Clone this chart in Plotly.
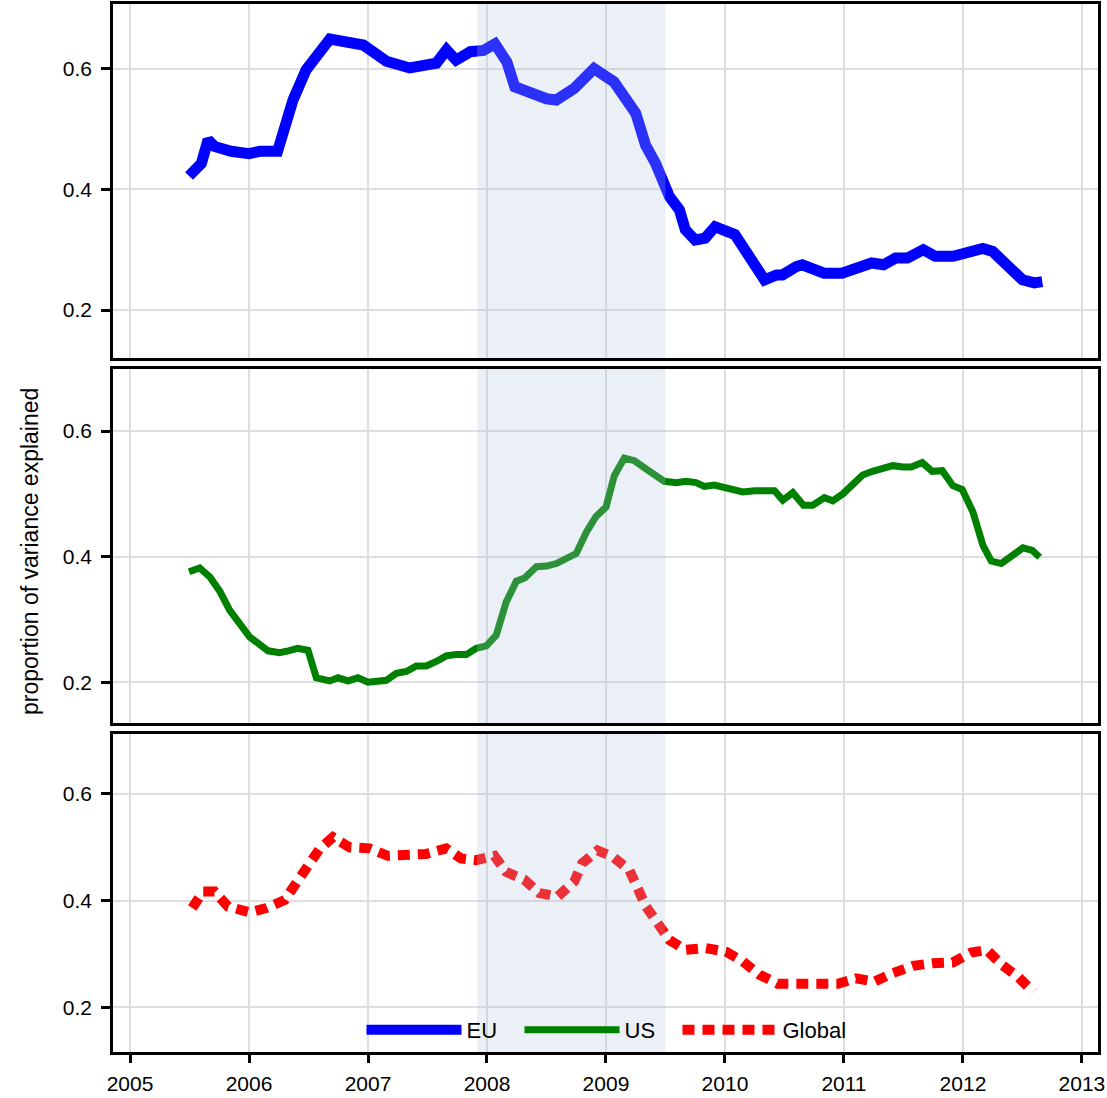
import plotly.graph_objects as go

# ---------------- data (decimal years) ----------------
eu_x = [2005.496, 2005.60, 2005.656, 2005.71, 2005.85, 2006.0, 2006.09, 2006.24, 2006.37, 2006.48,
        2006.68, 2006.875, 2006.96, 2007.155, 2007.35, 2007.575, 2007.66, 2007.74, 2007.86, 2007.97,
        2008.067, 2008.167, 2008.233, 2008.5, 2008.583, 2008.733, 2008.9, 2009.067, 2009.167, 2009.25,
        2009.333, 2009.417, 2009.533, 2009.617, 2009.667, 2009.75, 2009.833, 2009.917, 2010.083, 2010.217,
        2010.333, 2010.433, 2010.483, 2010.6, 2010.65, 2010.833, 2010.983, 2011.233, 2011.333, 2011.433,
        2011.533, 2011.667, 2011.767, 2011.917, 2012.167, 2012.25, 2012.4, 2012.5, 2012.6, 2012.667]
eu_y = [0.422, 0.443, 0.482, 0.471, 0.463, 0.459, 0.463, 0.463, 0.548, 0.598,
        0.649, 0.645, 0.639, 0.612, 0.601, 0.609, 0.631, 0.614, 0.628, 0.630,
        0.641, 0.611, 0.570, 0.550, 0.548, 0.567, 0.600, 0.578, 0.548, 0.526,
        0.473, 0.443, 0.388, 0.366, 0.333, 0.316, 0.319, 0.338, 0.325, 0.283,
        0.250, 0.258, 0.258, 0.272, 0.275, 0.261, 0.261, 0.278, 0.275, 0.286,
        0.286, 0.300, 0.289, 0.289, 0.302, 0.297, 0.272, 0.250, 0.245, 0.247]

us_x = [2005.496, 2005.585, 2005.67, 2005.754, 2005.837, 2005.92, 2006.006, 2006.16, 2006.258, 2006.33,
        2006.41, 2006.496, 2006.566, 2006.678, 2006.748, 2006.832, 2006.916, 2007.0, 2007.154, 2007.238,
        2007.322, 2007.406, 2007.49, 2007.574, 2007.658, 2007.74, 2007.826, 2007.91, 2007.994, 2008.078,
        2008.162, 2008.247, 2008.317, 2008.415, 2008.5, 2008.583, 2008.667, 2008.75, 2008.835, 2008.916,
        2009.0, 2009.07, 2009.154, 2009.238, 2009.336, 2009.49, 2009.589, 2009.673, 2009.757, 2009.827,
        2009.911, 2010.0, 2010.15, 2010.248, 2010.416, 2010.486, 2010.57, 2010.66, 2010.738, 2010.836,
        2010.906, 2010.99, 2011.074, 2011.158, 2011.24, 2011.41, 2011.495, 2011.565, 2011.658, 2011.742,
        2011.826, 2011.916, 2011.994, 2012.084, 2012.168, 2012.238, 2012.322, 2012.42, 2012.504, 2012.583,
        2012.645]
us_y = [0.376, 0.382, 0.368, 0.345, 0.315, 0.294, 0.272, 0.250, 0.247, 0.250,
        0.254, 0.251, 0.207, 0.202, 0.207, 0.202, 0.207, 0.200, 0.203, 0.214,
        0.217, 0.226, 0.226, 0.233, 0.242, 0.244, 0.244, 0.254, 0.258, 0.275,
        0.328, 0.361, 0.366, 0.384, 0.385, 0.389, 0.397, 0.405, 0.439, 0.464,
        0.479, 0.529, 0.557, 0.553, 0.540, 0.520, 0.518, 0.520, 0.518, 0.512,
        0.514, 0.510, 0.503, 0.505, 0.505, 0.490, 0.502, 0.482, 0.482, 0.494,
        0.489, 0.500, 0.514, 0.530, 0.536, 0.545, 0.543, 0.543, 0.550, 0.536,
        0.537, 0.513, 0.507, 0.471, 0.418, 0.393, 0.389, 0.402, 0.414, 0.410,
        0.399]

gl_x = [2005.523, 2005.613, 2005.71, 2005.823, 2006.005, 2006.145, 2006.30, 2006.41, 2006.495, 2006.59,
        2006.705, 2006.845, 2007.01, 2007.166, 2007.32, 2007.488, 2007.656, 2007.782, 2007.908, 2008.062,
        2008.16, 2008.314, 2008.44, 2008.594, 2008.734, 2008.80, 2008.93, 2009.056, 2009.196, 2009.266,
        2009.336, 2009.435, 2009.533, 2009.667, 2009.835, 2010.01, 2010.15, 2010.29, 2010.444, 2010.612,
        2010.78, 2010.948, 2011.1, 2011.257, 2011.41, 2011.58, 2011.746, 2011.914, 2012.068, 2012.2,
        2012.33, 2012.46, 2012.59]
gl_y = [0.386, 0.417, 0.417, 0.389, 0.378, 0.386, 0.401, 0.433, 0.465, 0.496,
        0.519, 0.500, 0.498, 0.484, 0.4875, 0.4875, 0.498, 0.479, 0.476, 0.484,
        0.454, 0.439, 0.414, 0.4075, 0.436, 0.470, 0.494, 0.4825, 0.4575, 0.426,
        0.389, 0.3575, 0.326, 0.3075, 0.311, 0.304, 0.286, 0.261, 0.244, 0.244,
        0.245, 0.244, 0.254, 0.248, 0.264, 0.2775, 0.2825, 0.284, 0.3025, 0.3075,
        0.279, 0.2575, 0.229]

year_ticks = [2005, 2006, 2007, 2008, 2009, 2010, 2011, 2012, 2013]
year_labels = ["2005", "2006", "2007", "2008", "2009", "2010", "2011", "2012", "2013"]
y_ticks = [0.2, 0.4, 0.6]
y_labels = ["0.2", "0.4", "0.6"]
recession = [2007.917, 2009.5]

# ---------------- figure ----------------
W, H = 1107, 1098
ML, MR, MT, MB = 113, 9, 4, 46
plot_w = W - ML - MR
plot_h = H - MT - MB

def frac(py):
    return (H - MB - py) / plot_h

FONT = "Liberation Sans, Arial, Helvetica, sans-serif"
fig = go.Figure()

fig.add_trace(go.Scatter(x=eu_x, y=eu_y, mode="lines", name="EU",
                         line=dict(color="#0000ff", width=11), xaxis="x", yaxis="y"))
fig.add_trace(go.Scatter(x=us_x, y=us_y, mode="lines", name="US",
                         line=dict(color="#008000", width=7), xaxis="x2", yaxis="y2"))
fig.add_trace(go.Scatter(x=gl_x, y=gl_y, mode="lines", name="Global",
                         line=dict(color="#ff0000", width=10, dash="12px,8px"), xaxis="x3", yaxis="y3"))
# invisible spacer entry so the last legend label is not clipped
fig.add_trace(go.Scatter(x=[None], y=[None], mode="lines", name=" ", hoverinfo="skip",
                         line=dict(color="rgba(0,0,0,0)", width=0), xaxis="x3", yaxis="y3"))

xr = [2004.857, 2013.135]
common_x = dict(range=xr, showgrid=True, gridcolor="#dedede", gridwidth=2,
                tickvals=year_ticks, ticktext=year_labels, showline=True, linecolor="black",
                linewidth=2.5, mirror=True, zeroline=False, automargin=False)
common_y = dict(showgrid=True, gridcolor="#dedede", gridwidth=2, tickvals=y_ticks, ticktext=y_labels,
                showline=True, linecolor="black", linewidth=2.5, mirror=True, zeroline=False,
                ticks="outside", ticklen=9, tickwidth=2.5, tickcolor="black", automargin=False,
                tickfont=dict(size=21, color="black", family=FONT), ticklabelstandoff=5)

fig.update_layout(
    xaxis=dict(common_x, anchor="y", showticklabels=False, ticks=""),
    xaxis2=dict(common_x, anchor="y2", showticklabels=False, ticks="", matches="x"),
    xaxis3=dict(common_x, anchor="y3", ticks="outside", ticklen=8, tickwidth=2.5, tickcolor="black",
                tickfont=dict(size=21, color="black", family=FONT), matches="x", ticklabelstandoff=3),
    yaxis=dict(common_y, domain=[frac(358), frac(4)], range=[0.1205, 0.707]),
    yaxis2=dict(common_y, domain=[frac(723), frac(369)], range=[0.135, 0.699]),
    yaxis3=dict(common_y, domain=[frac(1052), frac(734)], range=[0.116, 0.7125]),
)

for xa, ya in [("x", "y"), ("x2", "y2"), ("x3", "y3")]:
    fig.add_shape(type="rect", xref=xa, yref=ya + " domain", x0=recession[0], x1=recession[1],
                  y0=0, y1=1, fillcolor="rgba(176,196,222,0.25)", line=dict(width=0), layer="above")

fig.add_annotation(text="proportion of variance explained", xref="paper", yref="paper",
                   x=(30 - ML) / plot_w, y=frac(552), textangle=-90, showarrow=False,
                   xanchor="center", yanchor="middle", font=dict(size=23, color="black", family=FONT))

fig.update_layout(
    width=W, height=H, margin=dict(l=ML, r=MR, t=MT, b=MB, autoexpand=False),
    plot_bgcolor="white", paper_bgcolor="white",
    font=dict(family=FONT, color="black", size=22),
    showlegend=True,
    legend=dict(orientation="h", x=(371 - 9.5 - ML) / plot_w, xanchor="left",
                y=frac(1030), yanchor="middle",
                bgcolor="rgba(0,0,0,0)", font=dict(size=22, color="black", family=FONT),
                itemwidth=95, entrywidth=48, entrywidthmode="pixels", tracegroupgap=0),
)

fig.write_html("out.html", config={"displayModeBar": False},
               post_script="document.body.style.margin='0';document.body.style.padding='0';"
                           "document.documentElement.style.overflow='hidden';")
